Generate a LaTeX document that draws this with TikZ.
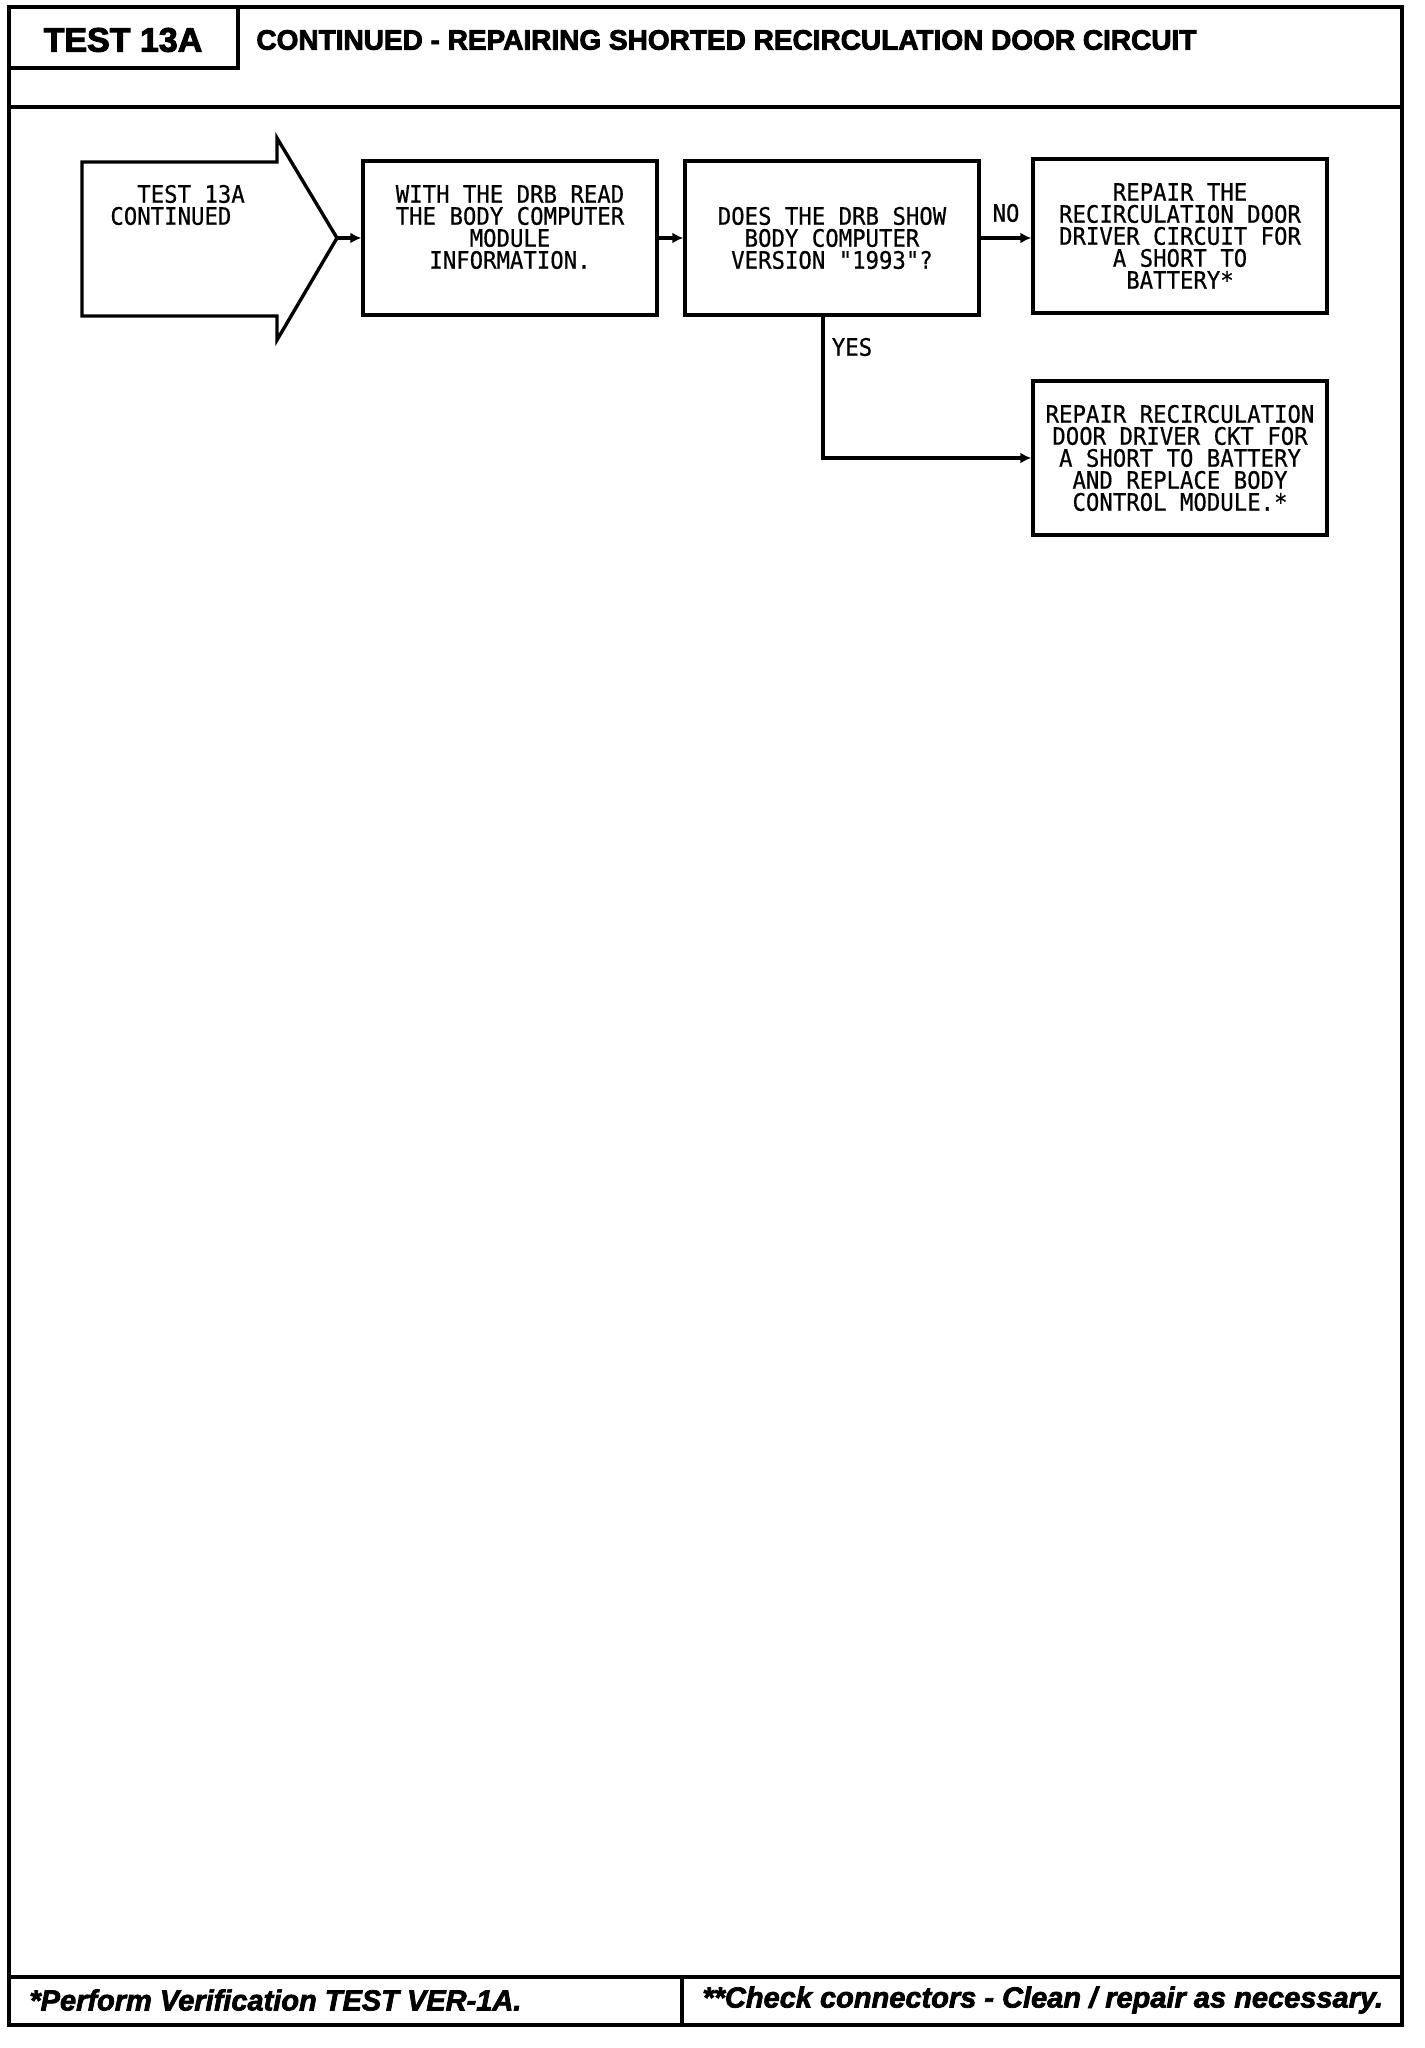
\documentclass[tikz,border=0pt]{standalone}
\usepackage{fontspec}
\usetikzlibrary{arrows.meta, positioning, math}
\newfontfamily\headfont{Liberation Sans}[BoldFeatures={FakeBold=3}, BoldItalicFeatures={FakeBold=2.5}]
\newfontfamily\drbfont{DejaVu Sans Mono}[FakeStretch=0.93, FakeBold=0.6]

\tikzset{
  frame/.style={line width=2pt},
  box/.style={draw, line width=1.7pt, minimum width=147pt, minimum height=77pt,
    align=center, inner sep=0pt, font=\drbfont\fontsize{12}{11}\selectfont},
  drbtxt/.style={inner sep=0pt, align=left, font=\drbfont\fontsize{12}{11}\selectfont},
  flow/.style={-{Latex[length=5.5pt,width=5.5pt]}, line width=1.6pt},
  foot/.style={anchor=west, inner sep=0pt, font=\headfont\bfseries\itshape\fontsize{14.5}{16}\selectfont},
}

\begin{document}
\begin{tikzpicture}[x=0.5pt, y=-0.5pt]
\tikzmath{
\rowy=238;
\yesy=458;
}
\useasboundingbox (0,0) rectangle (1424,2048);

 %page frame
 \draw[frame] (9,7) rectangle (1402,2025);
 \draw[frame] (238,7) -- (238,68) -- (9,68);
 \draw[frame] (9,107) -- (1402,107);
 \draw[frame] (9,1977) -- (1402,1977);
 \draw[frame] (682,1977) -- (682,2025);

 %header
 \node[inner sep=0pt, font=\headfont\bfseries\fontsize{17}{19}\selectfont] (hdtest) at (123,40) {TEST 13A};
 \node[anchor=west, inner sep=0pt, font=\headfont\bfseries\fontsize{14}{16}\selectfont] (hdtitle) at (256,40)
   {CONTINUED - REPAIRING SHORTED RECIRCULATION DOOR CIRCUIT};

 %start arrow
 \coordinate (tip) at (337,\rowy);
 \draw[line width=1.7pt, line join=miter] (82,162) -- (277,162) -- (277,138) -- (tip)
   -- (277,340) -- (277,316) -- (82,316) -- cycle;
 \node[drbtxt, anchor=west] (start) at (110,205) {\phantom{XX}TEST 13A\\CONTINUED};

 %boxes
 \node[box] (read) at (510,\rowy) {WITH THE DRB READ\\THE BODY COMPUTER\\MODULE\\INFORMATION.\\\mbox{}};
 \node[box] (ask) at (832,\rowy) {DOES THE DRB SHOW\\BODY COMPUTER\\VERSION "1993"?};
 \node[box] (fixno) at (1180,236) {REPAIR THE\\RECIRCULATION DOOR\\DRIVER CIRCUIT FOR\\A SHORT TO\\BATTERY*};
 \node[box] (fixyes) at (1180,\yesy) {REPAIR RECIRCULATION\\DOOR DRIVER CKT FOR\\A SHORT TO BATTERY\\AND REPLACE BODY\\CONTROL MODULE.*};

 %connectors
 \draw[flow] (tip) -- (read);
 \draw[flow] (read) -- (ask);
 \draw[flow] (ask.east) -- (ask.east -| fixno.west);
 \draw[flow] ([xshift=-4.5pt]ask.south) |- (fixyes.west);
 \node[drbtxt] (nolbl) at (1006,213) {NO};
 \node[drbtxt] (yeslbl) at (852,347) {YES};

 %footer
 \node[foot] (foota) at (29,2000) {*Perform Verification TEST VER-1A.};
 \node[foot] (footb) at (702,2000) {**Check connectors - Clean / repair as necessary.};
\end{tikzpicture}
\end{document}
